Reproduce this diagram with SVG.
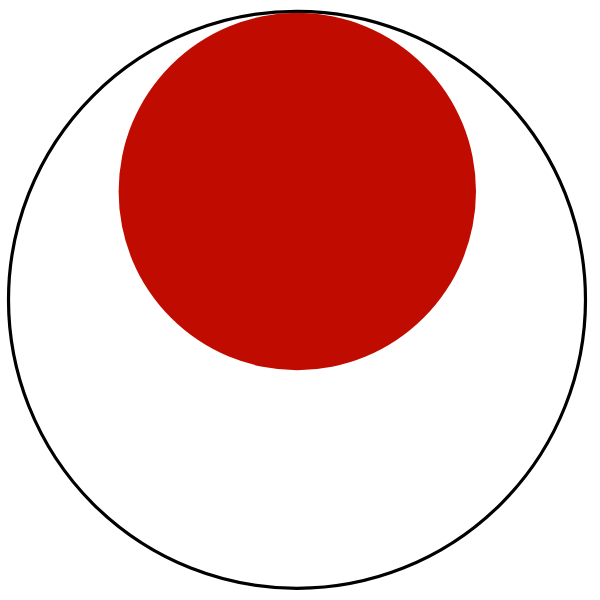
<svg xmlns="http://www.w3.org/2000/svg" width="600" height="600" viewBox="0 0 600 600">
  <rect width="600" height="600" fill="#ffffff"/>
  <g id="outer">
    <circle cx="297" cy="299.8" r="288.5" fill="none" stroke="#000000" stroke-width="3.2"/>
  </g>
  <g id="inner">
    <circle cx="297.3" cy="191.5" r="178.7" fill="#C00C00"/>
  </g>
</svg>
